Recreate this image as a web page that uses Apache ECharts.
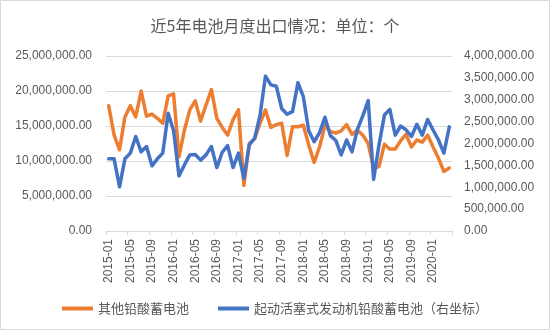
<!DOCTYPE html>
<html>
<head>
<meta charset="utf-8">
<script src="https://cdn.jsdelivr.net/npm/echarts@6/dist/echarts.min.js"></script>
<style>
html,body{margin:0;padding:0;background:#fff;}
#c{width:550px;height:330px;}
</style>
</head>
<body>
<div id="c"></div>
<script>
const months = ['2015-01','2015-02','2015-03','2015-04','2015-05','2015-06','2015-07','2015-08','2015-09','2015-10','2015-11','2015-12',
'2016-01','2016-02','2016-03','2016-04','2016-05','2016-06','2016-07','2016-08','2016-09','2016-10','2016-11','2016-12',
'2017-01','2017-02','2017-03','2017-04','2017-05','2017-06','2017-07','2017-08','2017-09','2017-10','2017-11','2017-12',
'2018-01','2018-02','2018-03','2018-04','2018-05','2018-06','2018-07','2018-08','2018-09','2018-10','2018-11','2018-12',
'2019-01','2019-02','2019-03','2019-04','2019-05','2019-06','2019-07','2019-08','2019-09','2019-10','2019-11','2019-12',
'2020-01','2020-02','2020-03','2020-04'];

// 其他铅酸蓄电池 (left axis)
const otherLeadAcid = [17900000,13700000,11600000,16300000,17900000,16300000,20000000,16400000,16700000,16100000,15400000,19300000,
19600000,10600000,14400000,17300000,18600000,15700000,18000000,20200000,16100000,14800000,13700000,15900000,
17300000,6500000,12500000,13200000,15400000,17300000,14800000,15200000,15400000,10800000,14900000,14900000,
15100000,12300000,9800000,12000000,15100000,14200000,14000000,14300000,15200000,13800000,14400000,13700000,
12500000,9000000,9200000,12400000,11700000,11700000,12900000,13800000,12000000,13000000,12700000,13700000,
12000000,10400000,8500000,9000000];

// 起动活塞式发动机铅酸蓄电池 (right axis)
const starterLeadAcid = [1650000,1650000,1010000,1650000,1780000,2160000,1810000,1930000,1490000,1650000,1780000,2690000,
2290000,1260000,1510000,1740000,1750000,1620000,1740000,1930000,1450000,1800000,1950000,1450000,
1780000,1200000,1970000,2120000,2650000,3540000,3340000,3310000,2800000,2670000,2730000,3390000,
3070000,2290000,2040000,2250000,2600000,2180000,2070000,1740000,2080000,1810000,2320000,2630000,
2980000,1180000,1970000,2650000,2780000,2190000,2400000,2310000,2160000,2440000,2190000,2550000,
2310000,2080000,1780000,2380000];

const leftTicks = [0,5000000,10000000,15000000,20000000,25000000];
const rightTicks = [0,500000,1000000,1500000,2000000,2500000,3000000,3500000,4000000];

const seriesNames = ['其他铅酸蓄电池','起动活塞式发动机铅酸蓄电池（右坐标）'];
const titleText = '近5年电池月度出口情况：单位：个';

function fmt(v){
  return Number(v).toLocaleString('en-US',{minimumFractionDigits:2,maximumFractionDigits:2});
}
const numFont = 'Liberation Sans, Arial, sans-serif';
const cjkFont = 'Noto Sans CJK SC, sans-serif';
const grey = '#595959';

const chart = echarts.init(document.getElementById('c'), null, {renderer:'canvas'});
chart.setOption({
  backgroundColor:'#ffffff',
  animation:false,
  title:{
    text:titleText, left:'center', top:13,
    textStyle:{fontSize:16, fontWeight:'normal', color:grey, fontFamily:cjkFont}
  },
  graphic:[{type:'rect', shape:{x:0.5,y:0.5,width:549,height:329}, style:{fill:null, stroke:'#d9d9d9', lineWidth:1}, silent:true}],
  legend:{
    left:'center', top:297, icon:'rect', itemWidth:31, itemHeight:4, itemGap:29,
    textStyle:{fontSize:13, color:grey, fontFamily:cjkFont},
    data:seriesNames
  },
  grid:{left:106, right:98, top:56, bottom:99, containLabel:false},
  xAxis:{
    type:'category', data:months, boundaryGap:true,
    axisLine:{lineStyle:{color:'#d9d9d9', width:1}},
    axisTick:{show:true, interval:3, length:4, lineStyle:{color:'#d9d9d9'}},
    axisLabel:{interval:3, rotate:90, margin:8, fontSize:12, color:grey, fontFamily:numFont}
  },
  yAxis:[{
    type:'value', min:leftTicks[0], max:leftTicks[leftTicks.length-1], interval:leftTicks[1]-leftTicks[0],
    axisLine:{show:false}, axisTick:{show:false},
    splitLine:{lineStyle:{color:'#d9d9d9', width:1}},
    axisLabel:{formatter:fmt, fontSize:12, color:grey, fontFamily:numFont, margin:14}
  },{
    type:'value', min:rightTicks[0], max:rightTicks[rightTicks.length-1], interval:rightTicks[1]-rightTicks[0],
    axisLine:{show:false}, axisTick:{show:false}, splitLine:{show:false},
    axisLabel:{formatter:fmt, fontSize:12, color:grey, fontFamily:numFont, margin:12}
  }],
  series:[{
    name:seriesNames[0], type:'line', yAxisIndex:0, data:otherLeadAcid, symbol:'none',
    itemStyle:{color:'#ED7D31'},
    lineStyle:{color:'#ED7D31', width:3.5, cap:'round', join:'round'}
  },{
    name:seriesNames[1], type:'line', yAxisIndex:1, data:starterLeadAcid, symbol:'none',
    itemStyle:{color:'#4472C4'},
    lineStyle:{color:'#4472C4', width:3.5, cap:'round', join:'round'}
  }]
});
</script>
</body>
</html>
